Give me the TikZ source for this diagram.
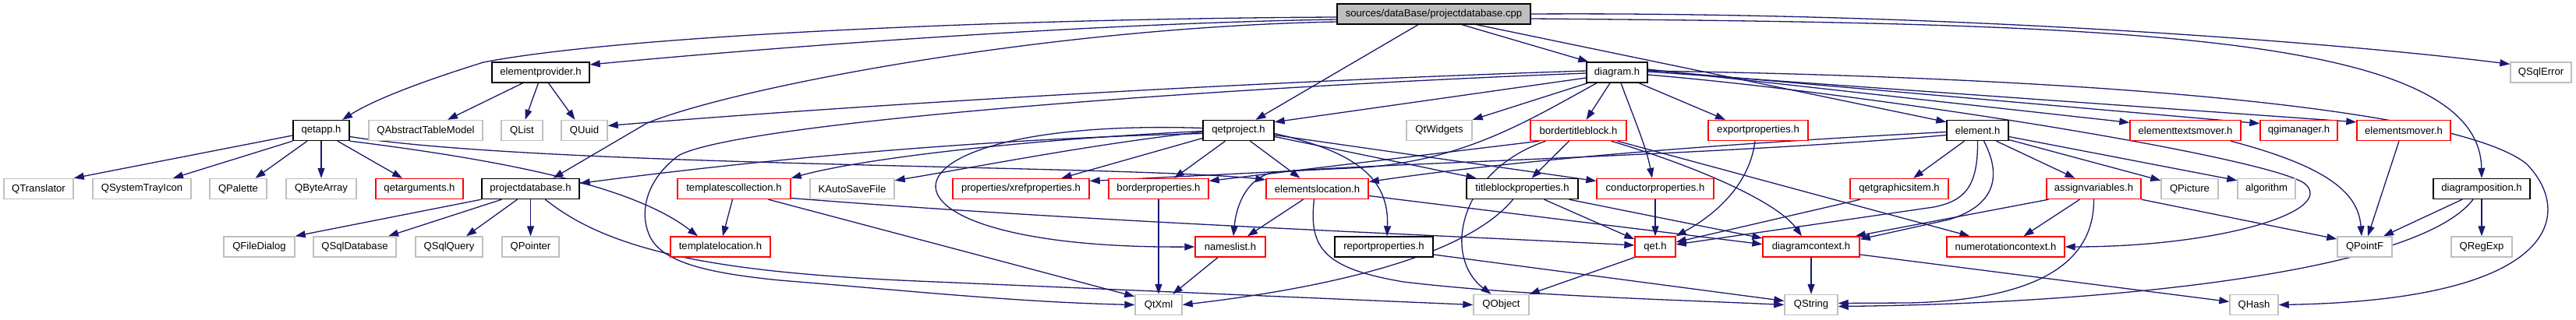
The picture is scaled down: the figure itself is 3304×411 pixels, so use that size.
\documentclass[tikz,border=0pt]{standalone}
\usepackage{fontspec}
\setmainfont{Liberation Sans}
\usetikzlibrary{arrows.meta}
\pgfdeclarelayer{bglayer}
\pgfdeclarelayer{edgelayer}
\pgfsetlayers{bglayer,edgelayer,main}
\definecolor{edgeblue}{HTML}{191970}
\definecolor{extgrey}{HTML}{BFBFBF}
\definecolor{rootgrey}{HTML}{BFBFBF}
\definecolor{ndred}{HTML}{FF0000}
\tikzset{
  nd/.style={draw, line width=1.4pt, minimum height=26pt, inner sep=0pt, font=\fontsize{13.1}{15}\selectfont, text=black},
  docnd/.style={nd, draw=black, fill=white},
  rnd/.style={nd, draw=ndred, fill=white},
  xnd/.style={nd, draw=extgrey, fill=white},
  rootnd/.style={nd, draw=black, fill=rootgrey},
  dep/.style={draw=edgeblue, line width=1.3pt, -{Triangle[length=13pt,width=9pt]}},
}
\begin{document}
\begin{tikzpicture}[x=1pt,y=-1pt]
\begin{pgfonlayer}{bglayer}
\fill[white] (0,0) rectangle (3304,411);
\end{pgfonlayer}
\useasboundingbox (0,0) rectangle (3304,411);
% row 0
\node[rootnd, minimum width=248] (root) at (1839,18) {sources/dataBase/projectdatabase.cpp};
% row 1
\node[docnd, minimum width=125] (ep) at (693.5,93) {elementprovider.h};
\node[docnd, minimum width=78] (dg) at (2074,93) {diagram.h};
\node[xnd, minimum width=78] (sqlerr) at (3259,93) {QSqlError};
% row 2
\node[docnd, minimum width=72] (qa) at (412,167.5) {qetapp.h};
\node[xnd, minimum width=146] (qatm) at (546,167.5) {QAbstractTableModel};
\node[xnd, minimum width=53] (qlist) at (669.5,167.5) {QList};
\node[xnd, minimum width=59] (quuid) at (749.5,167.5) {QUuid};
\node[docnd, minimum width=91] (qp) at (1588.5,167.5) {qetproject.h};
\node[xnd, minimum width=84] (qtw) at (1846,167.5) {QtWidgets};
\node[rnd, minimum width=123] (btb) at (2024.5,167.5) {bordertitleblock.h};
\node[rnd, minimum width=128] (exp) at (2255,167.5) {exportproperties.h};
\node[docnd, minimum width=79] (elh) at (2536.5,167.5) {element.h};
\node[rnd, minimum width=142] (etm) at (2803,167.5) {elementtextsmover.h};
\node[rnd, minimum width=99] (qgi) at (2948.5,167.5) {qgimanager.h};
\node[rnd, minimum width=120] (em) at (3083,167.5) {elementsmover.h};
% row 3
\node[xnd, minimum width=89] (qtr) at (49.5,242.5) {QTranslator};
\node[xnd, minimum width=126] (qsti) at (182,242.5) {QSystemTrayIcon};
\node[xnd, minimum width=73] (qpal) at (305.5,242.5) {QPalette};
\node[xnd, minimum width=90] (qba) at (412,242.5) {QByteArray};
\node[rnd, minimum width=112] (qarg) at (538,242.5) {qetarguments.h};
\node[docnd, minimum width=125] (pdb) at (680.5,242.5) {projectdatabase.h};
\node[rnd, minimum width=145] (tc) at (941.5,242.5) {templatescollection.h};
\node[xnd, minimum width=108] (kasf) at (1093,242.5) {KAutoSaveFile};
\node[rnd, minimum width=175] (xref) at (1309.5,242.5) {properties/xrefproperties.h};
\node[rnd, minimum width=128] (bp) at (1486,242.5) {borderproperties.h};
\node[rnd, minimum width=131] (el) at (1689.5,242.5) {elementslocation.h};
\node[docnd, minimum width=143] (tbp) at (1952.5,242.5) {titleblockproperties.h};
\node[rnd, minimum width=150] (cp) at (2123,242.5) {conductorproperties.h};
\node[rnd, minimum width=126] (qgit) at (2436,242.5) {qetgraphicsitem.h};
\node[rnd, minimum width=121] (av) at (2685.5,242.5) {assignvariables.h};
\node[xnd, minimum width=73] (qpic) at (2808.5,242.5) {QPicture};
\node[xnd, minimum width=74] (algo) at (2907,242.5) {algorithm};
\node[docnd, minimum width=124] (dp) at (3183,242.5) {diagramposition.h};
% row 4
\node[xnd, minimum width=91] (qfd) at (332.5,317) {QFileDialog};
\node[xnd, minimum width=106] (qsdb) at (455,317) {QSqlDatabase};
\node[xnd, minimum width=86] (qsq) at (576,317) {QSqlQuery};
\node[xnd, minimum width=73] (qptr) at (680.5,317) {QPointer};
\node[rnd, minimum width=128] (tl) at (924,317) {templatelocation.h};
\node[rnd, minimum width=90] (nl) at (1578,317) {nameslist.h};
\node[docnd, minimum width=126] (rp) at (1775,317) {reportproperties.h};
\node[rnd, minimum width=52] (qet) at (2123,317) {qet.h};
\node[rnd, minimum width=124] (dc) at (2323,317) {diagramcontext.h};
\node[rnd, minimum width=151] (nc) at (2572.5,317) {numerotationcontext.h};
\node[xnd, minimum width=70] (qpf) at (3033,317) {QPointF};
\node[xnd, minimum width=78] (qre) at (3183,317) {QRegExp};
% row 5
\node[xnd, minimum width=60] (qtxml) at (1486,391.5) {QtXml};
\node[xnd, minimum width=71] (qobj) at (1925.5,391.5) {QObject};
\node[xnd, minimum width=68] (qstr) at (2323,391.5) {QString};
\node[xnd, minimum width=62] (qhash) at (2891,391.5) {QHash};

\begin{pgfonlayer}{edgelayer}
% ---- edges from root
\draw[dep] ([yshift=-4]root.west) .. controls (1300,24) and (800,45) .. (620,80) .. controls (540,105) and (480,128) .. ([xshift=27]qa.north);
\draw[dep] ([yshift=-7]root.west) .. controls (1400,30) and (1000,60) .. ([yshift=10]ep.east);
\draw[dep] ([yshift=-10]root.west) .. controls (1350,35) and (950,110) .. (830,158) -- ([xshift=29]pdb.north);
\draw[dep] ([xshift=-20]root.south) -- ([xshift=22]qp.north);
\draw[dep] ([xshift=36]root.south) -- ([xshift=3]dg.north west);
\draw[dep] ([xshift=55]root.south) -- (elh.165);
\draw[dep] ([yshift=-6]root.east) .. controls (2700,30) and (3180,40) .. (dp.north);
\draw[dep] (root.east) .. controls (2500,15) and (3000,55) .. (sqlerr.165);
% elementprovider
\draw[dep] ([xshift=-23]ep.south) -- ([xshift=28]qatm.north);
\draw[dep] ([xshift=-3]ep.south) -- ([xshift=4]qlist.north);
\draw[dep] ([xshift=10]ep.south) -- ([xshift=-12]quuid.north);
% qetapp
\draw[dep] (qa.190) -- (qtr.north east);
\draw[dep] (qa.south west) -- ([xshift=40]qsti.north);
\draw[dep] ([xshift=-18]qa.south) -- ([xshift=22]qpal.north);
\draw[dep] (qa.south) -- (qba.north);
\draw[dep] ([xshift=21]qa.south) -- ([xshift=-22]qarg.north);
\draw[dep] ([yshift=-8]qa.east) .. controls (700,215) and (1450,212) .. (el.170);
\draw[dep] (qa.south east) .. controls (680,210) and (820,245) .. ([xshift=-29]tl.north);
% projectdatabase
\draw[dep] (pdb.south west) -- (qfd.north east);
\draw[dep] ([xshift=-37]pdb.south) -- ([xshift=43]qsdb.north);
\draw[dep] ([xshift=-17]pdb.south) -- ([xshift=22]qsq.north);
\draw[dep] (pdb.south) -- (qptr.north);
\draw[dep] ([xshift=19]pdb.south) .. controls (790,330) and (950,352) .. (1200,362) -- (qobj.west);
% qetproject
\draw[dep] ([yshift=-4]qp.west) .. controls (1200,180) and (900,215) .. ([yshift=7]pdb.east);
\draw[dep] ([yshift=-1]qp.west) .. controls (1300,180) and (1100,205) .. (tc.north east);
\draw[dep] ([yshift=-2]qp.west) .. controls (1400,185) and (1250,215) .. ([yshift=-3]kasf.north east);
\draw[dep] ([yshift=-10]qp.west) -- ([xshift=52]xref.north);
\draw[dep] ([yshift=3]qp.west) .. controls (1100,150) and (1080,320) .. (nl.west);
\draw[dep] ([xshift=-17]qp.south) -- ([xshift=20]bp.north);
\draw[dep] ([xshift=15]qp.south) -- ([xshift=-22]el.north);
\draw[dep] ([yshift=-4]qp.east) .. controls (1740,195) and (1782,230) .. ([xshift=4]rp.north);
\draw[dep] ([yshift=-8]qp.east) -- ([xshift=-59]tbp.north);
\draw[dep] ([yshift=-6]qp.east) -- ([yshift=10]cp.west);
% diagram
\draw[dep] (dg.190) -- ([yshift=-3]qp.north east);
\draw[dep] (dg.200) -- (qtw.north east);
\draw[dep] ([xshift=-9]dg.south) -- ([xshift=10]btb.north);
\draw[dep] ([xshift=5]dg.south) .. controls (2095,150) and (2112,190) .. ([xshift=-4]cp.north);
\draw[dep] ([xshift=28]dg.south) -- ([xshift=-42]exp.north);
\draw[dep] ([xshift=-26]dg.south) .. controls (1960,155) and (1880,205) .. (1750,215) -- ([yshift=10]xref.east);
\draw[dep] ([yshift=2]dg.west) .. controls (1600,105) and (1100,135) .. ([yshift=6]quuid.east);
\draw[dep] ([yshift=-1]dg.west) .. controls (1500,115) and (940,160) .. (870,200) .. controls (830,230) and (820,270) .. (832,300) .. controls (845,335) and (900,350) .. (1000,360) .. controls (1150,372) and (1300,388) .. (qtxml.west);
\draw[dep] ([yshift=2]dg.east) .. controls (2700,100) and (3150,140) .. (3240,210) .. controls (3300,270) and (3290,385) .. (qhash.east);
\draw[dep] ([yshift=4]dg.east) -- (etm.172);
\draw[dep] ([yshift=3]dg.east) -- (qgi.170);
\draw[dep] ([yshift=1]dg.east) -- (em.170);
\draw[dep] ([yshift=-3]dg.east) .. controls (2400,120) and (2900,200) .. (2955,235) .. controls (3000,270) and (2850,317) .. (nc.east);
% bordertitleblock
\draw[dep] ([xshift=-50]btb.south) -- ([yshift=10]bp.east);
\draw[dep] ([xshift=-12]btb.south) -- ([xshift=12]tbp.north);
\draw[dep] ([xshift=-42]btb.south) .. controls (1870,220) and (1850,330) .. ([xshift=-13]qobj.north);
\draw[dep] ([xshift=42]btb.south) .. controls (2180,215) and (2280,260) .. ([xshift=-12]dc.north);
\draw[dep] ([xshift=50]btb.south) -- ([xshift=-46]nc.north);
% exportproperties, conductorproperties
\draw[dep] ([xshift=-4]exp.south) .. controls (2245,230) and (2210,270) .. (qet.north east);
\draw[dep] (cp.south) -- (qet.north);
% titleblockproperties
\draw[dep] ([xshift=28]tbp.south) -- (qet.160);
\draw[dep] ([xshift=60]tbp.south) -- (dc.170);
\draw[dep] ([xshift=-12]tbp.south) .. controls (1880,330) and (1700,370) .. (qtxml.east);
% elementslocation
\draw[dep] ([xshift=-18]el.south) -- ([xshift=22]nl.north);
\draw[dep] ([xshift=-4]el.south) .. controls (1678,320) and (1700,345) .. (1800,362) .. controls (1950,380) and (2150,385) .. (qstr.west);
\draw[dep] ([yshift=-9]el.east) -- (dc.177);
% element
\draw[dep] ([yshift=-2]elh.west) .. controls (2200,185) and (1950,205) .. ([yshift=9]el.east);
\draw[dep] ([yshift=-6]elh.west) .. controls (2200,200) and (1700,212) .. (1630,222) .. controls (1595,232) and (1585,270) .. ([xshift=4]nl.north);
\draw[dep] ([xshift=-17]elh.south) -- ([xshift=18]qgit.north);
\draw[dep] (elh.south) .. controls (2537,240) and (2520,258) .. (2480,266) -- ([yshift=3]qet.east);
\draw[dep] ([xshift=8]elh.south) .. controls (2570,230) and (2555,265) .. (2500,282) -- ([yshift=-4]dc.north east);
\draw[dep] ([xshift=24]elh.south) -- ([xshift=-24]av.north);
\draw[dep] ([yshift=-12]elh.east) -- ([yshift=-3]qpic.north west);
\draw[dep] ([yshift=-8]elh.east) -- ([yshift=-3]algo.north west);
% assignvariables
\draw[dep] ([xshift=-58]av.south) -- ([xshift=-6]dc.north east);
\draw[dep] ([xshift=-18]av.south) -- ([xshift=23]nc.north);
\draw[dep] (av.south) .. controls (2686,345) and (2600,385) .. (2450,389) -- ([yshift=2]qstr.east);
\draw[dep] (av.south east) -- ([yshift=10]qpf.west);
% qetgraphicsitem
\draw[dep] ([xshift=-50]qgit.south) -- ([yshift=6]qet.east);
% diagramposition
\draw[dep] ([xshift=-25]dp.south) -- ([xshift=24]qpf.north);
\draw[dep] (dp.south) -- (qre.north);
\draw[dep] ([xshift=-11]dp.south) .. controls (3100,350) and (2700,390) .. ([yshift=-2]qstr.east);
% movers
\draw[dep] ([xshift=58]etm.south) .. controls (2990,215) and (3025,250) .. ([xshift=-4]qpf.north);
\draw[dep] ([xshift=-6]em.south) -- ([xshift=4]qpf.north);
% diagramcontext
\draw[dep] (dc.south) -- (qstr.north);
\draw[dep] ([yshift=-10]dc.east) -- ([yshift=4]qhash.west);
% qet
\draw[dep] (qet.south west) -- (qobj.north east);
% reportproperties
\draw[dep] ([yshift=-10]rp.east) -- ([yshift=5]qstr.west);
% nameslist, borderproperties
\draw[dep] ([xshift=-16]nl.south) -- ([xshift=18]qtxml.north);
\draw[dep] (bp.south) -- (qtxml.north);
% templatescollection
\draw[dep] ([xshift=44]tc.south) -- ([yshift=-3]qtxml.north west);
\draw[dep] ([xshift=-2]tc.south) -- ([xshift=3]tl.north);
\draw[dep] ([yshift=-12]tc.east) .. controls (1400,285) and (1800,300) .. ([yshift=2]qet.west);
\end{pgfonlayer}
\end{tikzpicture}
\end{document}
